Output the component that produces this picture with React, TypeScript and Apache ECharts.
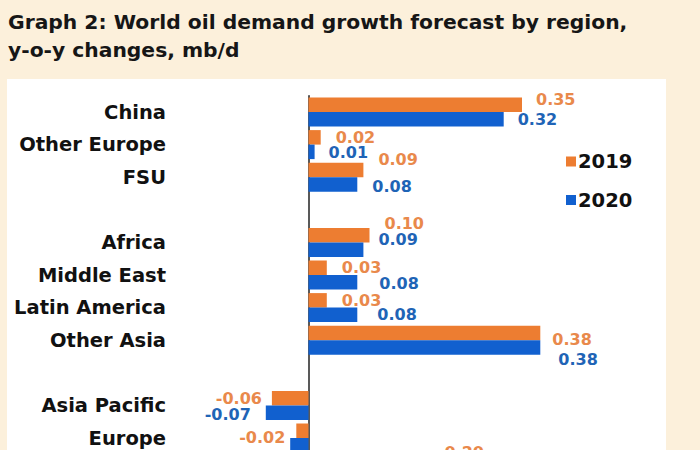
import React, { useEffect, useRef } from "react";
import * as echarts from "echarts";

// ---- data (top to bottom; "" rows are the blank spacer rows of the original) ----
const categories = [
  "China",
  "Other Europe",
  "FSU",
  "",
  "Africa",
  "Middle East",
  "Latin America",
  "Other Asia",
  "",
  "Asia Pacific",
  "Europe",
  "Americas",
];
const values2019: (number | null)[] = [0.35, 0.02, 0.09, null, 0.1, 0.03, 0.03, 0.38, null, -0.06, -0.02, 0.2];
// last 2020 bar lies below the cropped edge of the reference
const values2020: (number | null)[] = [0.32, 0.01, 0.08, null, 0.09, 0.08, 0.08, 0.38, null, -0.07, -0.03, null];
const seriesNames = ["2019", "2020"];
const titleLines = ["Graph 2: World oil demand growth forecast by region,", "y-o-y changes, mb/d"];

// ---- label nudges (layout only), [dx, dy] in px ----
const labelShift2019: [number, number][] = [
  [0, -5], [1, 0], [1, -10], [0, 0], [1, -12], [1, 0], [1, 0], [-2, 7], [0, 0], [4, 0], [3, 7], [0, -11],
];
const labelShift2020: [number, number][] = [
  [0, 0], [0, 1], [1, 2], [0, 0], [1, -10], [8, 1], [6, 0], [4, 12], [0, 0], [-1, 2], [0, 16], [0, 0],
];

const FONT = "DejaVu Sans";
const ORANGE = "#ED7D31";
const BLUE = "#1160CF";
const ORANGE_LABEL = "#E9894B";
const BLUE_LABEL = "#1F64B6";

function buildData(vals: (number | null)[], shifts: [number, number][]) {
  return vals.map((v, i) => {
    if (v === null) return null;
    return {
      value: v,
      label: {
        position: v < 0 ? "left" : "right",
        offset: shifts[i],
      },
    };
  });
}

export default function App() {
  const ref = useRef<HTMLDivElement>(null);

  useEffect(() => {
    if (!ref.current) return;
    const chart = echarts.init(ref.current, null, { renderer: "svg" });

    const labelBase = {
      show: true,
      distance: 14,
      fontFamily: FONT,
      fontWeight: "bold",
      fontSize: 16,
      formatter: (p: any) => (typeof p.value === "number" ? p.value.toFixed(2) : ""),
    };

    const gridLeft = 186.5;
    const gridTop = 95.7;
    const band = 32.6;

    chart.setOption({
      animation: false,
      backgroundColor: "#FCF0DB",
      title: {
        text: titleLines.join("\n"),
        left: 8,
        top: 8,
        padding: 0,
        textStyle: {
          fontFamily: FONT,
          fontWeight: "bold",
          fontSize: 20.3,
          lineHeight: 28,
          color: "#161616",
        },
      },
      graphic: [
        {
          type: "rect",
          z: -10,
          silent: true,
          shape: { x: 7, y: 79, width: 659, height: 400 },
          style: { fill: "#FFFFFF" },
        },
      ],
      legend: {
        orient: "vertical",
        left: 566,
        top: 151.5,
        padding: 0,
        itemWidth: 10,
        itemHeight: 10,
        itemGap: 18.5,
        icon: "rect",
        data: seriesNames,
        textStyle: {
          fontFamily: FONT,
          fontWeight: "bold",
          fontSize: 19.5,
          lineHeight: 20,
          color: "#111111",
          padding: [0, 0, 0, -3],
        },
      },
      grid: {
        left: gridLeft,
        right: 86.5,
        top: gridTop,
        bottom: 450 - (gridTop + categories.length * band),
        containLabel: false,
        outerBoundsMode: "none",
      },
      xAxis: {
        type: "value",
        min: -0.2,
        max: 0.5,
        axisLine: { show: false },
        axisTick: { show: false },
        axisLabel: { show: false },
        splitLine: { show: false },
      },
      yAxis: {
        type: "category",
        inverse: true,
        data: categories,
        axisLine: { show: true, onZero: true, lineStyle: { color: "#222222", width: 1.5 } },
        axisTick: { show: false },
        axisLabel: {
          margin: gridLeft - 166,
          fontFamily: FONT,
          fontWeight: "bold",
          fontSize: 19.5,
          color: "#111111",
        },
        splitLine: { show: false },
      },
      series: [
        {
          name: seriesNames[0],
          type: "bar",
          barWidth: 14.5,
          barGap: "0%",
          itemStyle: { color: ORANGE },
          label: { ...labelBase, color: ORANGE_LABEL },
          data: buildData(values2019, labelShift2019),
        },
        {
          name: seriesNames[1],
          type: "bar",
          barWidth: 14.5,
          barGap: "0%",
          itemStyle: { color: BLUE },
          label: { ...labelBase, color: BLUE_LABEL },
          data: buildData(values2020, labelShift2020),
        },
      ],
    });

    return () => chart.dispose();
  }, []);

  return (
    <div
      ref={ref}
      style={{ position: "absolute", left: 0, top: 0, width: 700, height: 450 }}
    />
  );
}
